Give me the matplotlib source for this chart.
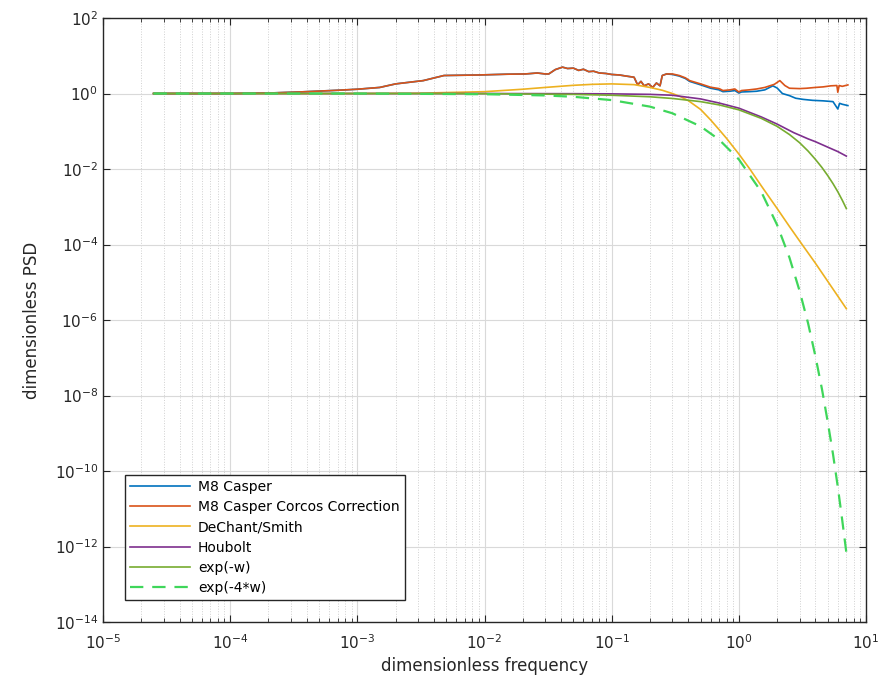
import numpy as np
import matplotlib
matplotlib.use("Agg")
import matplotlib.pyplot as plt
from matplotlib.ticker import LogLocator, NullLocator, NullFormatter

# ---- data ----
# M8 Casper Corcos Correction (orange)
corcos_w = [2.5e-5, 1e-4, 2e-4, 3.5e-4, 7e-4, 1e-3, 1.5e-3, 2e-3, 3.3e-3, 4.8e-3,
            9e-3, 0.015, 0.021, 0.026, 0.03, 0.032, 0.036, 0.041, 0.045, 0.05,
            0.055, 0.06, 0.066, 0.072, 0.08, 0.09, 0.1, 0.115, 0.13, 0.15,
            0.16, 0.17, 0.18, 0.195, 0.21, 0.225, 0.24, 0.25, 0.27, 0.3,
            0.34, 0.38, 0.41, 0.5, 0.6, 0.7, 0.75, 0.85, 0.93, 1.0,
            1.05, 1.2, 1.38, 1.6, 1.9, 2.1, 2.3, 2.5, 3.0, 3.4,
            4.0, 4.6, 5.3, 5.9, 6.0, 6.15, 6.5, 7.2]
corcos_psd = [1.0, 1.0, 1.03, 1.1, 1.22, 1.3, 1.45, 1.8, 2.2, 3.0,
              3.1, 3.25, 3.3, 3.5, 3.3, 3.3, 4.3, 5.0, 4.6, 4.7,
              4.1, 4.4, 3.8, 3.9, 3.5, 3.4, 3.2, 3.1, 2.9, 2.7,
              1.7, 2.1, 1.6, 1.8, 1.45, 1.9, 1.6, 3.0, 3.3, 3.3,
              3.0, 2.6, 2.2, 1.8, 1.47, 1.35, 1.2, 1.25, 1.32, 1.1,
              1.2, 1.25, 1.32, 1.45, 1.75, 2.2, 1.63, 1.38, 1.35, 1.38,
              1.45, 1.5, 1.6, 1.63, 1.08, 1.63, 1.55, 1.69]

# M8 Casper (blue)
casper_w = [2.5e-5, 1e-4, 2e-4, 3.5e-4, 7e-4, 1e-3, 1.5e-3, 2e-3, 3.3e-3, 4.8e-3,
            9e-3, 0.015, 0.021, 0.026, 0.03, 0.032, 0.036, 0.041, 0.045, 0.05,
            0.055, 0.06, 0.066, 0.072, 0.08, 0.09, 0.1, 0.115, 0.13, 0.15,
            0.16, 0.17, 0.18, 0.195, 0.21, 0.225, 0.24, 0.25, 0.27, 0.3,
            0.34, 0.38, 0.41, 0.5, 0.6, 0.7, 0.75, 0.85, 0.93, 1.0,
            1.05, 1.2, 1.38, 1.6, 1.85, 2.0, 2.2, 2.5, 2.8, 3.2,
            3.8, 4.6, 5.5, 6.0, 6.2, 6.5, 7.2]
casper_psd = [1.0, 1.0, 1.03, 1.1, 1.22, 1.3, 1.45, 1.8, 2.2, 3.0,
              3.1, 3.25, 3.3, 3.5, 3.3, 3.3, 4.3, 5.0, 4.6, 4.7,
              4.1, 4.4, 3.8, 3.9, 3.5, 3.4, 3.2, 3.1, 2.9, 2.7,
              1.7, 2.1, 1.6, 1.8, 1.45, 1.9, 1.6, 3.0, 3.3, 3.2,
              2.9, 2.5, 2.1, 1.7, 1.38, 1.25, 1.12, 1.15, 1.2, 1.03,
              1.1, 1.12, 1.15, 1.25, 1.6, 1.4, 1.0, 0.88, 0.75, 0.7,
              0.66, 0.64, 0.61, 0.39, 0.55, 0.52, 0.48]

# DeChant/Smith (yellow)
dechant_w = [2.5e-5, 1e-4, 1e-3, 3e-3, 0.01, 0.02, 0.03, 0.05, 0.07, 0.1,
             0.15, 0.2, 0.25, 0.3, 0.35, 0.4, 0.5, 0.6, 0.7, 0.8,
             1.0, 1.22, 1.5, 2.0, 2.5, 3.0, 4.0, 5.0, 6.0, 7.0]
dechant_psd = [1.0, 1.0, 1.0, 1.02, 1.12, 1.3, 1.45, 1.65, 1.75, 1.8,
               1.72, 1.45, 1.22, 1.0, 0.82, 0.65, 0.38, 0.2, 0.11, 0.065,
               0.025, 0.01, 3.6e-3, 9e-4, 3e-4, 1.25e-4, 3.2e-5, 1.06e-5, 4.3e-6, 2e-6]

# Houbolt (purple)
houbolt_w = [2.5e-5, 1e-3, 0.01, 0.05, 0.1, 0.2, 0.3, 0.5, 0.7, 1.0,
             1.5, 2.0, 2.7, 3.5, 4.0, 5.0, 6.0, 7.0]
houbolt_psd = [1.0, 1.0, 1.0, 0.99, 0.98, 0.95, 0.9, 0.72, 0.56, 0.41,
               0.24, 0.155, 0.092, 0.063, 0.053, 0.038, 0.029, 0.022]

# exp(-w) (green)
expw_w = [2.5e-5, 1e-3, 0.01, 0.05, 0.1, 0.2, 0.3, 0.5, 0.7, 1.0,
          1.5, 2.0, 2.5, 3.0, 3.5, 4.0, 4.5, 5.0, 5.5, 6.0, 6.5, 7.0]
expw_psd = [1.0, 1.0, 0.99, 0.95, 0.9, 0.82, 0.74, 0.61, 0.5, 0.37,
            0.22, 0.135, 0.082, 0.05, 0.03, 0.018, 0.011, 6.7e-3, 4.1e-3, 2.5e-3, 1.5e-3, 9e-4]

# exp(-4*w) (dashed light green)
exp4w_w = [2.5e-5, 1e-3, 0.01, 0.03, 0.05, 0.1, 0.2, 0.3, 0.5, 0.7,
           1.0, 1.5, 2.0, 2.5, 3.0, 3.5, 4.0, 4.5, 5.0, 5.5, 6.0, 6.5, 7.0]
exp4w_psd = [1.0, 1.0, 0.96, 0.89, 0.82, 0.67, 0.45, 0.3, 0.135, 0.06,
             0.018, 2.5e-3, 3.3e-4, 4.5e-5, 6e-6, 8.3e-7, 1.1e-7, 1.5e-8, 2e-9,
             2.8e-10, 3.8e-11, 5e-12, 7e-13]

labels = ["M8 Casper", "M8 Casper Corcos Correction", "DeChant/Smith",
          "Houbolt", "exp(-w)", "exp(-4*w)"]

# MATLAB default palette
c_blue = "#0072bd"
c_orange = "#d95319"
c_yellow = "#edb120"
c_purple = "#7e2f8e"
c_green = "#77ac30"
c_lgreen = "#3fd65a"

fig = plt.figure(figsize=(8.94, 6.83), dpi=100)
ax = fig.add_axes([0.1152, 0.0893, 0.8535, 0.8843])

ax.loglog(casper_w, casper_psd, color=c_blue, lw=1.2, label=labels[0])
ax.loglog(corcos_w, corcos_psd, color=c_orange, lw=1.2, label=labels[1])
ax.loglog(dechant_w, dechant_psd, color=c_yellow, lw=1.2, label=labels[2])
ax.loglog(houbolt_w, houbolt_psd, color=c_purple, lw=1.2, label=labels[3])
ax.loglog(expw_w, expw_psd, color=c_green, lw=1.2, label=labels[4])
ax.loglog(exp4w_w, exp4w_psd, color=c_lgreen, lw=1.6, ls=(0, (6, 4)), label=labels[5])

ax.set_xlim(1e-5, 1e1)
ax.set_ylim(1e-14, 1e2)
ax.set_yticks(10.0 ** np.arange(-14, 3, 2))
ax.yaxis.set_minor_locator(NullLocator())
ax.set_xticks(10.0 ** np.arange(-5, 2, 1))
ax.xaxis.set_minor_locator(LogLocator(base=10, subs=np.arange(2, 10), numticks=20))
ax.xaxis.set_minor_formatter(NullFormatter())

ax.grid(True, which="major", color="#d9d9d9", lw=0.8, ls="-")
ax.grid(True, which="minor", axis="x", color="#d0d0d0", lw=0.7, ls=":")
ax.set_axisbelow(True)

ax.tick_params(which="both", direction="in", top=True, right=True,
               colors="#262626", labelsize=11)
ax.tick_params(which="major", length=5, width=0.8)
ax.tick_params(which="minor", length=3, width=0.6)
ax.tick_params(axis="x", pad=8)
for sp in ax.spines.values():
    sp.set_color("#262626")
    sp.set_linewidth(1.0)

ax.set_xlabel("dimensionless frequency", fontsize=12, color="#262626", labelpad=4)
ax.set_ylabel("dimensionless PSD", fontsize=12, color="#262626", labelpad=10)

leg = ax.legend(loc="lower left", bbox_to_anchor=(0.02, 0.025), fontsize=10,
                handlelength=4.3, handletextpad=0.6, labelspacing=0.45,
                borderpad=0.35, fancybox=False, framealpha=1, edgecolor="#262626")
leg.get_frame().set_linewidth(1.0)

fig.savefig("out.png", dpi=100)
